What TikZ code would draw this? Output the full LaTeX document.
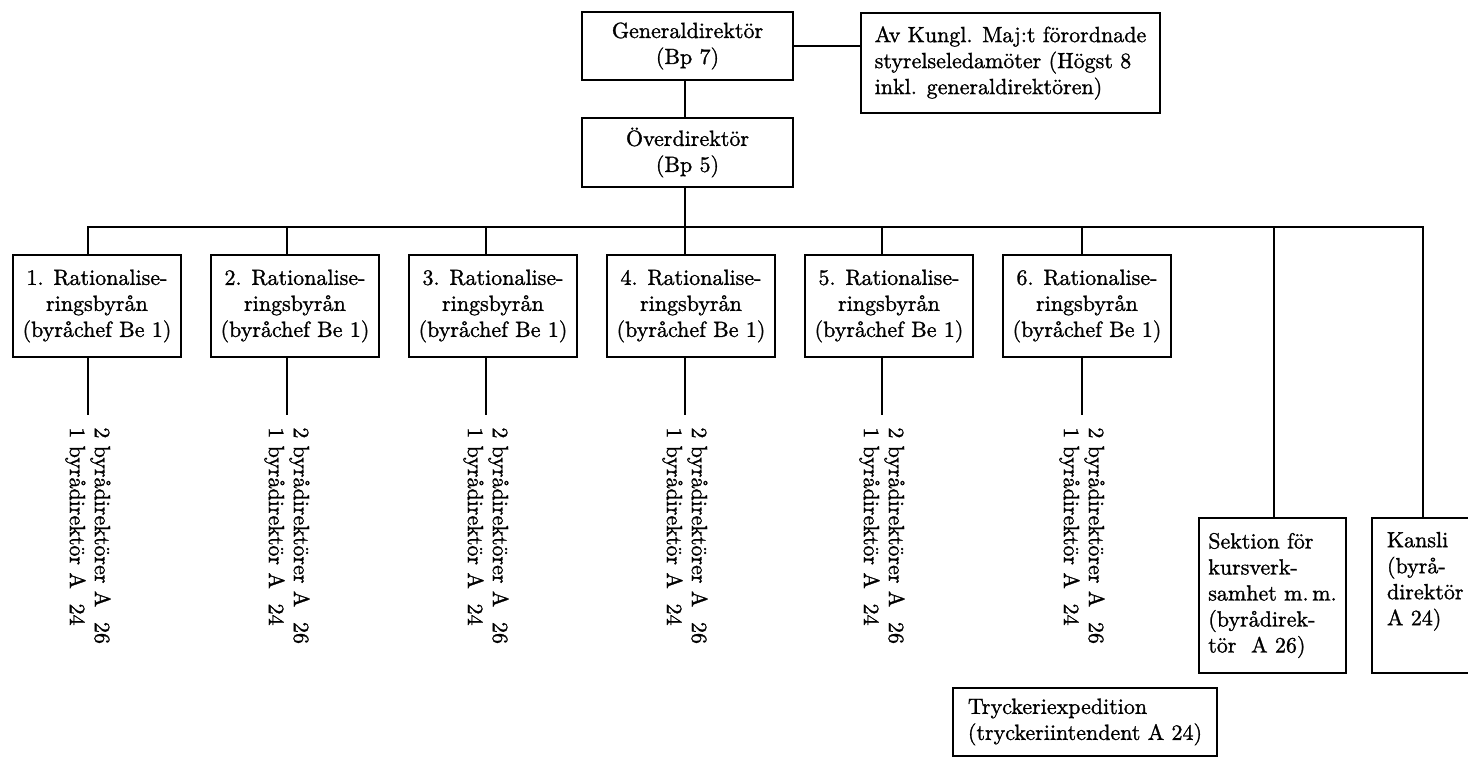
\documentclass[tikz,border=0pt]{standalone}
\usepackage{fontspec}
\newfontfamily\hv{Latin Modern Roman}[FakeBold=1.2]
\begin{document}
\begin{tikzpicture}[x=0.5pt,y=-0.5pt,
  bx/.style={draw,line width=1.3pt,inner sep=0pt,font=\hv\fontsize{11}{13}\selectfont},
  cbox/.style={bx,align=center},
  lbox/.style={bx,align=left},
  rbox/.style={cbox,minimum width=84pt,minimum height=51pt},
  ln/.style={line width=1pt},
  vt/.style={rotate=-90,anchor=west,align=left,inner xsep=6pt,inner ysep=0pt,font=\hv\fontsize{11}{12.5}\selectfont}]
\useasboundingbox[fill=white] (0,0) rectangle (1468,758);

% top
\node[cbox,minimum width=105.5pt,minimum height=34pt] (gen) at (687.5,46) {Generaldirektör\\(Bp 7)};
\node[cbox,minimum width=105.5pt,minimum height=34.5pt] (over) at (687.5,152.5) {Överdirektör\\(Bp 5)};
\node[lbox,minimum width=149.5pt,minimum height=50pt] (av) at (1010.5,63) {Av Kungl. Maj:t förordnade\\styrelseledamöter (Högst 8\\inkl. generaldirektören)};

% bureaus
\node[rbox] (r1) at (97,306) {1. Rationalise-\\ringsbyrån\\(byråchef Be 1)};
\node[rbox] (r2) at (295,306) {2. Rationalise-\\ringsbyrån\\(byråchef Be 1)};
\node[rbox] (r3) at (493,306) {3. Rationalise-\\ringsbyrån\\(byråchef Be 1)};
\node[rbox] (r4) at (691,306) {4. Rationalise-\\ringsbyrån\\(byråchef Be 1)};
\node[rbox] (r5) at (889,306) {5. Rationalise-\\ringsbyrån\\(byråchef Be 1)};
\node[rbox] (r6) at (1087,306) {6. Rationalise-\\ringsbyrån\\(byråchef Be 1)};

\node[lbox,minimum width=73.5pt,minimum height=77.5pt] (sek) at (1272.5,595.5) {Sektion för\\kursverk-\\samhet m.\,m.\\(byrådirek-\\tör~ A 26)};
\node[lbox,text width=40pt,inner xsep=7.5pt,minimum height=77.5pt] (kan) at (1427,595.5) {Kansli\\(byrå-\\direktör\\A 24)\\\strut};
\node[lbox,minimum width=132pt,minimum height=34pt] (tryck) at (1085,722) {Tryckeriexpedition\\(tryckeriintendent A 24)};

% staff texts
\node[vt] (t1) at (88,415) {2 byrådirektörer A~ 26\\1 byrådirektör A~ 24};
\node[vt] (t2) at (287,415) {2 byrådirektörer A~ 26\\1 byrådirektör A~ 24};
\node[vt] (t3) at (486,415) {2 byrådirektörer A~ 26\\1 byrådirektör A~ 24};
\node[vt] (t4) at (685,415) {2 byrådirektörer A~ 26\\1 byrådirektör A~ 24};
\node[vt] (t5) at (882,415) {2 byrådirektörer A~ 26\\1 byrådirektör A~ 24};
\node[vt] (t6) at (1082,415) {2 byrådirektörer A~ 26\\1 byrådirektör A~ 24};

% coordinates on the branch line
\coordinate (d1) at (88,227);
\coordinate (d2) at (287,227);
\coordinate (d3) at (486,227);
\coordinate (d4) at (685,227);
\coordinate (d5) at (882,227);
\coordinate (d6) at (1082,227);
\coordinate (ds) at (1274,227);
\coordinate (dk) at (1423,227);

% connectors
\draw[ln] (gen.east) -- (gen.east -| av.west);
\draw[ln] (gen.south -| d4) -- (over.north -| d4);
\draw[ln] (over.south -| d4) -- (r4.north -| d4);
\draw[ln] (r1.north -| d1) -- (d1) -- (dk) -- (kan.north -| dk);
\draw[ln] (d2) -- (r2.north -| d2);
\draw[ln] (d3) -- (r3.north -| d3);
\draw[ln] (d5) -- (r5.north -| d5);
\draw[ln] (d6) -- (r6.north -| d6);
\draw[ln] (ds) -- (sek.north -| ds);

\draw[ln] (r1.south -| t1.west) -- (t1.west);
\draw[ln] (r2.south -| t2.west) -- (t2.west);
\draw[ln] (r3.south -| t3.west) -- (t3.west);
\draw[ln] (r4.south -| t4.west) -- (t4.west);
\draw[ln] (r5.south -| t5.west) -- (t5.west);
\draw[ln] (r6.south -| t6.west) -- (t6.west);
\end{tikzpicture}
\end{document}
